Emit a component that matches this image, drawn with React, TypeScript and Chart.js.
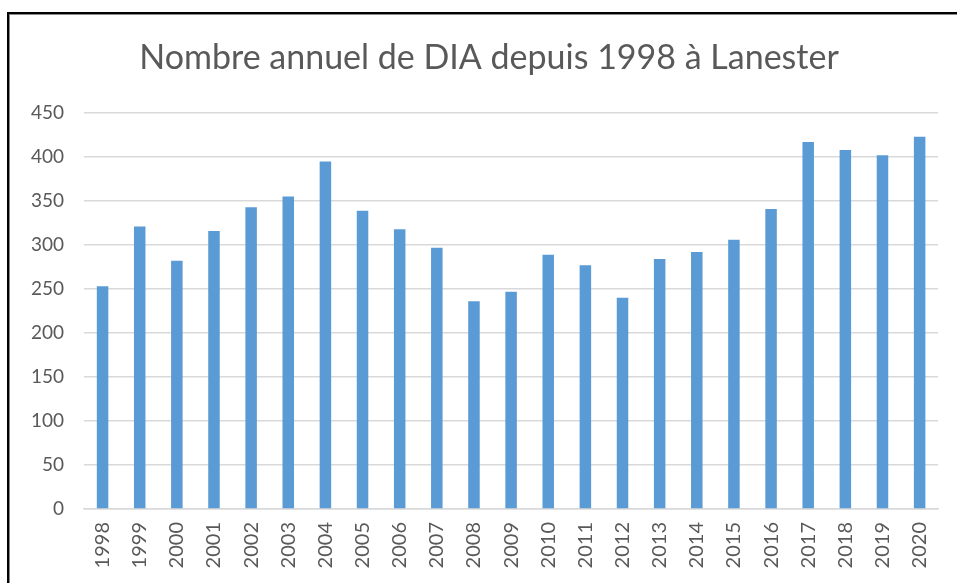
import React, { useEffect, useRef } from "react";
import { Chart, registerables } from "chart.js";

Chart.register(...registerables);

const TITLE = "Nombre annuel de DIA depuis 1998 à Lanester";
const years = [
  "1998", "1999", "2000", "2001", "2002", "2003", "2004", "2005", "2006", "2007", "2008", "2009",
  "2010", "2011", "2012", "2013", "2014", "2015", "2016", "2017", "2018", "2019", "2020",
];
const diaCounts = [
  253, 321, 282, 316, 343, 355, 395, 339, 318, 297, 236, 247,
  289, 277, 240, 284, 292, 306, 341, 417, 408, 402, 423,
];
const yMin = 0;
const yMax = 450;
const yStep = 50;

const BAR_COLOR = "#5B9BD5";
const TEXT_COLOR = "#595959";
const GRID_COLOR = "#D9D9D9";
const FONT = "Lato, 'Open Sans', sans-serif";

const titlePlugin = {
  id: "customTitle",
  afterDraw(chart: any) {
    const ctx = chart.ctx;
    ctx.save();
    ctx.font = `normal 34px ${FONT}`;
    ctx.fillStyle = TEXT_COLOR;
    ctx.textAlign = "center";
    ctx.textBaseline = "alphabetic";
    ctx.fillText(TITLE, 489, 69);
    ctx.restore();
  },
};

export default function App() {
  const canvasRef = useRef<HTMLCanvasElement | null>(null);

  useEffect(() => {
    const canvas = canvasRef.current;
    if (!canvas) return;
    const chart = new Chart(canvas, {
      type: "bar",
      data: {
        labels: years,
        datasets: [
          {
            label: "DIA",
            data: diaCounts,
            backgroundColor: BAR_COLOR,
            borderWidth: 0,
            barPercentage: 0.31,
            categoryPercentage: 1,
          },
        ],
      },
      options: {
        responsive: false,
        animation: false,
        devicePixelRatio: 1,
        layout: { padding: { left: 0, right: 17, top: 113, bottom: 0 } },
        plugins: {
          legend: { display: false },
          tooltip: { enabled: false },
          title: { display: false },
        },
        scales: {
          x: {
            grid: { display: false, drawTicks: false },
            border: { display: true, color: GRID_COLOR, width: 1.5 },
            ticks: {
              color: TEXT_COLOR,
              font: { family: FONT, size: 20 },
              minRotation: 90,
              maxRotation: 90,
              padding: 13,
              autoSkip: false,
            },
            afterFit: (s: any) => {
              s.height = 74;
            },
          },
          y: {
            min: yMin,
            max: yMax,
            grid: { color: GRID_COLOR, lineWidth: 1.5, drawTicks: false },
            border: { display: false },
            ticks: {
              stepSize: yStep,
              color: TEXT_COLOR,
              font: { family: FONT, size: 19 },
              padding: 20,
            },
            afterFit: (s: any) => {
              s.width = 84;
            },
          },
        },
      },
      plugins: [titlePlugin],
    });
    return () => chart.destroy();
  }, []);

  return (
    <div
      style={{
        position: "fixed",
        left: 0,
        top: 0,
        width: 957,
        height: 583,
        overflow: "hidden",
        background: "#fff",
      }}
    >
      <canvas
        ref={canvasRef}
        width={957}
        height={583}
        style={{ position: "absolute", left: 0, top: 0, width: 957, height: 583 }}
      />
      <div
        style={{
          position: "absolute",
          left: 7,
          top: 12,
          width: 2000,
          height: 2000,
          borderLeft: "2px solid #000",
          borderTop: "2px solid #000",
          boxShadow: "inset 1px 1px 0 #888",
          pointerEvents: "none",
        }}
      />
    </div>
  );
}
